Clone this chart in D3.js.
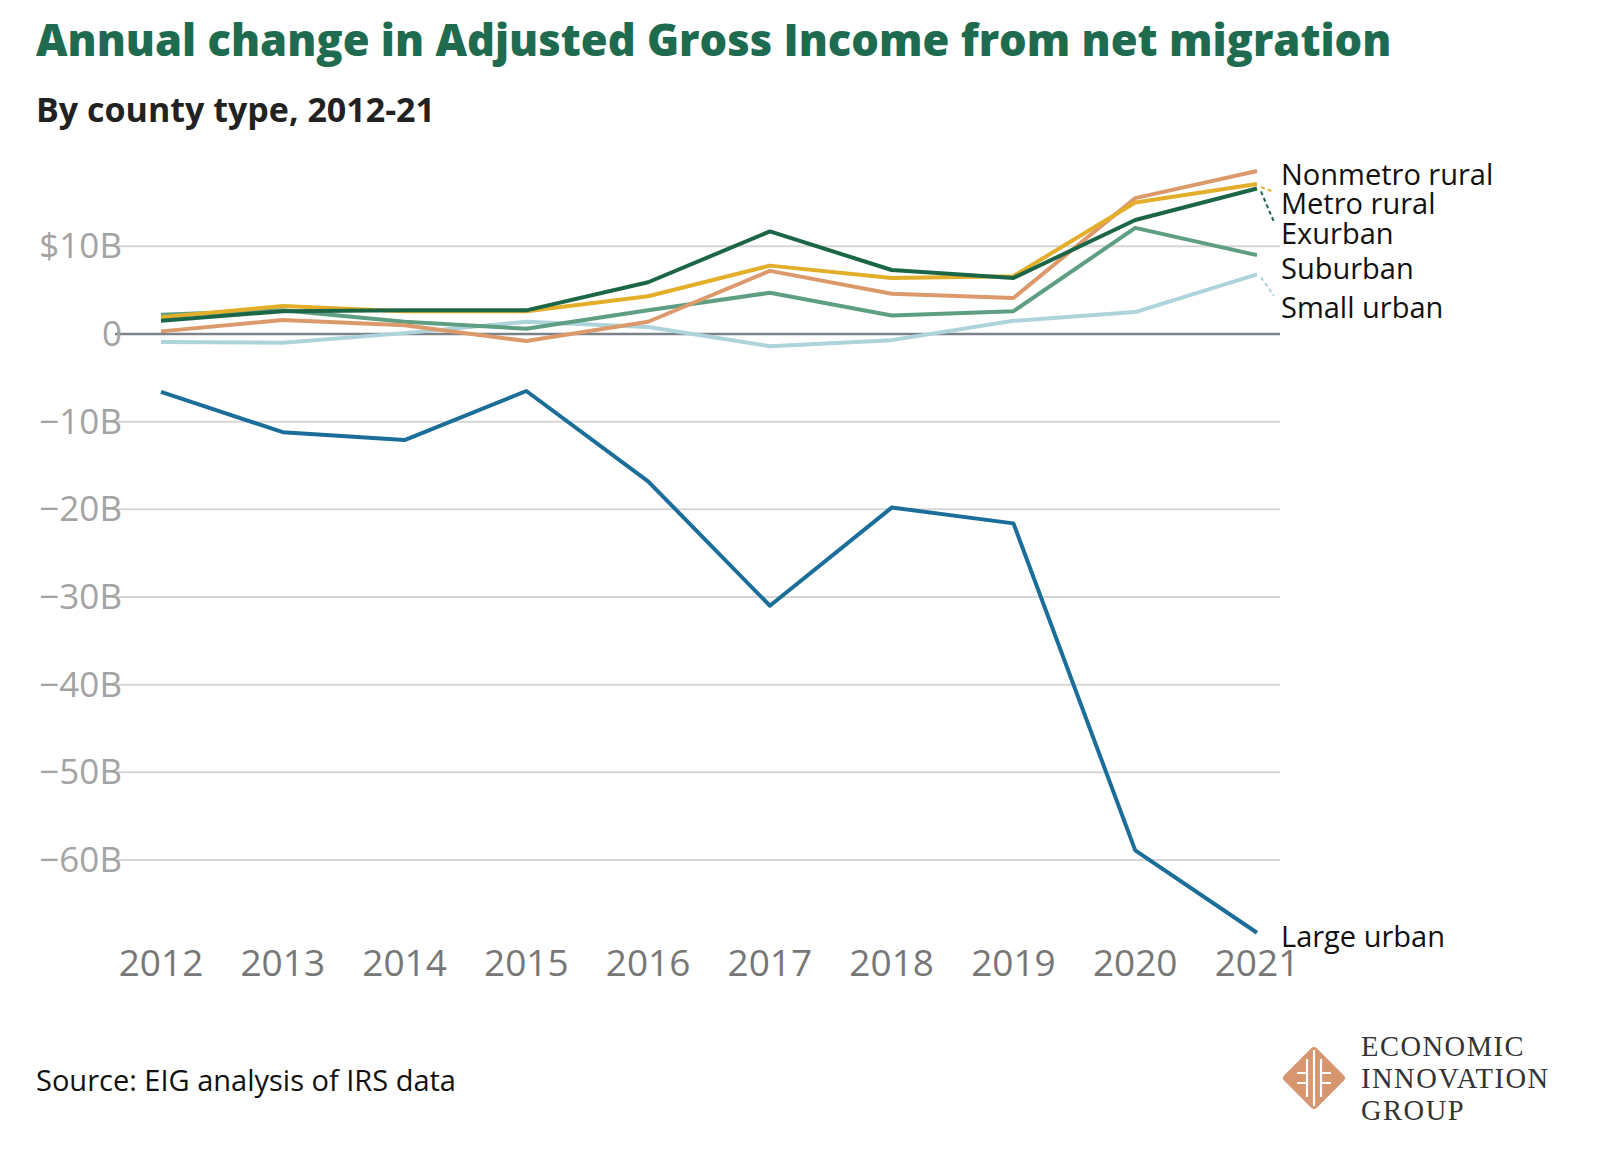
<!DOCTYPE html>
<html>
<head>
<meta charset="UTF-8">
<script src="https://d3js.org/d3.v7.min.js"></script>
<style>
body { margin: 0; background: #fff; font-family: "Open Sans", sans-serif; }
</style>
</head>
<body>
<svg width="1600" height="1170"></svg>
<script>
const years = [2012, 2013, 2014, 2015, 2016, 2017, 2018, 2019, 2020, 2021];
const yTicks = [10, 0, -10, -20, -30, -40, -50, -60];
const largeUrban = [-6.6, -11.2, -12.1, -6.5, -16.8, -31, -19.8, -21.6, -58.9, -68.3];
const nonmetroRural = [0.3, 1.6, 1.0, -0.8, 1.4, 7.2, 4.6, 4.1, 15.5, 18.6];
const metroRural = [1.9, 3.2, 2.6, 2.6, 4.3, 7.8, 6.4, 6.6, 15.0, 17.1];
const exurban = [1.5, 2.6, 2.7, 2.7, 5.9, 11.7, 7.3, 6.4, 13.0, 16.6];
const suburban = [2.2, 2.7, 1.4, 0.6, 2.7, 4.7, 2.1, 2.6, 12.1, 9.0];
const smallUrban = [-0.9, -1.0, 0.1, 1.4, 0.8, -1.4, -0.7, 1.5, 2.5, 6.8];

const series = [
  { name: "Small urban", values: smallUrban, color: "#acd4da", labelY: 308 },
  { name: "Suburban", values: suburban, color: "#5e9e83", labelY: 269 },
  { name: "Nonmetro rural", values: nonmetroRural, color: "#dc9a6c", labelY: 175 },
  { name: "Metro rural", values: metroRural, color: "#e3ae2a", labelY: 204 },
  { name: "Exurban", values: exurban, color: "#1c6648", labelY: 234 },
  { name: "Large urban", values: largeUrban, color: "#1a6e99", labelY: 937 }
];

const svg = d3.select("svg");
const x = d3.scaleLinear().domain([2012, 2021]).range([161, 1257]);
const y = d3.scaleLinear().domain([0, -60]).range([334, 860]);

svg.append("text").attr("x", 36).attr("y", 56).attr("fill", "#1e6b4f")
  .attr("font-size", 43.5).attr("font-weight", 800)
  .text("Annual change in Adjusted Gross Income from net migration");
svg.append("text").attr("x", 36).attr("y", 122).attr("fill", "#222")
  .attr("font-size", 34).attr("font-weight", 700).text("By county type, 2012-21");

// grid
svg.append("g").selectAll("line").data(yTicks).join("line")
  .attr("x1", 115).attr("x2", 1280)
  .attr("y1", d => y(d)).attr("y2", d => y(d))
  .attr("stroke", d => d === 0 ? "#7b8289" : "#d6d6d6")
  .attr("stroke-width", d => d === 0 ? 2.5 : 2);
svg.append("g").selectAll("text").data(yTicks).join("text")
  .attr("x", 122).attr("y", d => y(d) + 12).attr("text-anchor", "end")
  .attr("fill", "#a3a3a3").attr("font-size", 35)
  .text(d => d === 10 ? "$10B" : d === 0 ? "0" : "\u2212" + Math.abs(d) + "B");

svg.append("g").selectAll("text").data(years).join("text")
  .attr("x", d => x(d)).attr("y", 976).attr("text-anchor", "middle")
  .attr("fill", "#777").attr("font-size", 37).text(d => d);

const line = d3.line().x((d, i) => x(years[i])).y(d => y(d));
series.forEach(s => {
  svg.append("path").datum(s.values).attr("d", line).attr("fill", "none")
    .attr("stroke", s.color).attr("stroke-width", 4).attr("stroke-linejoin", "round");
  const endY = y(s.values[s.values.length - 1]);
  if (Math.abs(endY - s.labelY + 8) > 6 && s.name !== "Nonmetro rural") {
    svg.append("line").attr("x1", 1261).attr("y1", endY + 3)
      .attr("x2", 1274).attr("y2", s.labelY - 12)
      .attr("stroke", s.color).attr("stroke-width", 2).attr("stroke-dasharray", "4,3");
  }
  svg.append("text").attr("x", 1281).attr("y", s.labelY + 10)
    .attr("font-size", 29).attr("fill", "#111").text(s.name);
});

svg.append("text").attr("x", 36).attr("y", 1091).attr("font-size", 29)
  .attr("fill", "#111").text("Source: EIG analysis of IRS data");

// logo
const logo = svg.append("g").attr("transform", "translate(1314,1078)");
logo.append("rect").attr("x", -23).attr("y", -23).attr("width", 46).attr("height", 46)
  .attr("rx", 4).attr("fill", "#d59670").attr("transform", "rotate(45)");
logo.append("path").attr("d", "M0,-28 V28 M-7,-19 V19 M7,-19 V19 M-17,-5 H-7 M-17,5 H-7 M7,-5 H17 M7,5 H17")
  .attr("stroke", "#fff").attr("stroke-width", 2.2).attr("fill", "none");
["ECONOMIC", "INNOVATION", "GROUP"].forEach((t, i) => {
  svg.append("text").attr("x", 1361).attr("y", 1056 + i * 32)
    .attr("font-family", "Liberation Serif, serif").attr("font-size", 28.5)
    .attr("letter-spacing", 1.5).attr("fill", "#333").text(t);
});
</script>
</body>
</html>
